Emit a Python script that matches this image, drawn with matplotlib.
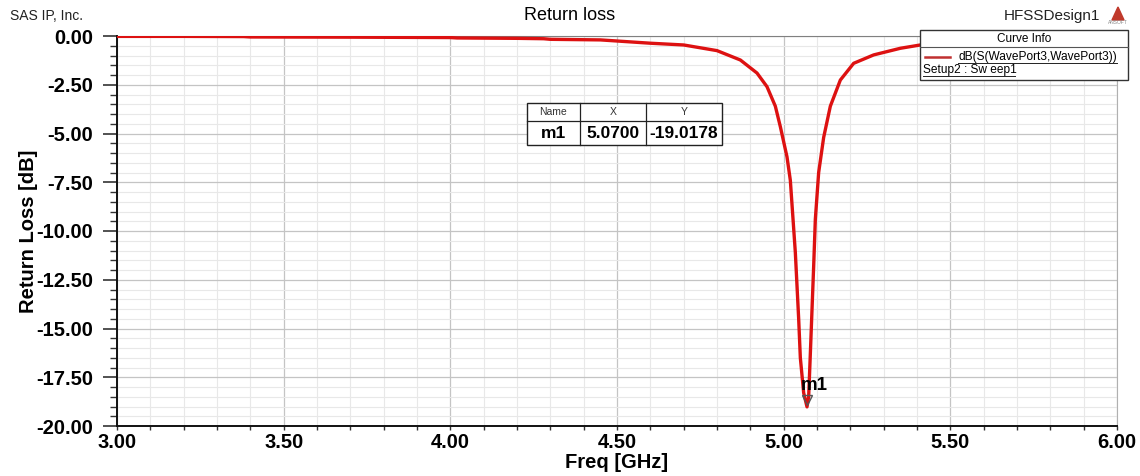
import matplotlib
matplotlib.use("Agg")
import matplotlib.pyplot as plt
from matplotlib.patches import Rectangle, Polygon
from matplotlib.lines import Line2D
import numpy as np

plt.rcParams['font.family'] = ['Liberation Sans', 'DejaVu Sans']

# valores
freq = [3.00, 3.20, 3.38, 3.40, 3.70, 4.00, 4.02, 4.20, 4.28, 4.30, 4.45, 4.60,
        4.70, 4.80, 4.87, 4.92, 4.95, 4.975, 4.99, 5.01, 5.02, 5.035, 5.045, 5.05,
        5.06, 5.07, 5.075, 5.08, 5.09, 5.095, 5.105, 5.12, 5.14, 5.17, 5.21, 5.27,
        5.35, 5.41, 5.50, 5.60, 5.80, 6.00]
ret_loss = [-0.02, -0.02, -0.03, -0.05, -0.06, -0.08, -0.10, -0.12, -0.14, -0.17, -0.20, -0.37,
            -0.46, -0.75, -1.23, -1.90, -2.60, -3.60, -4.65, -6.20, -7.40, -11.1, -14.5, -16.5,
            -18.3, -19.02, -18.5, -16.3, -11.8, -9.4, -7.0, -5.2, -3.6, -2.26, -1.40, -0.97,
            -0.63, -0.46, -0.35, -0.28, -0.20, -0.15]

m_name = 'm1'
m_x = 5.0700
m_y = -19.0178

W, H = 1140, 476
fig = plt.figure(figsize=(W / 100, H / 100), dpi=100)

def fx(px):
    return px / W

def fy(py):
    return 1 - py / H

ax = fig.add_axes([fx(117), fy(426), fx(1117) - fx(117), fy(36) - fy(426)])
ax.plot(freq, ret_loss, color='#dd1111', lw=2.4, zorder=3)

ax.set_xlim(3.0, 6.0)
ax.set_ylim(-20.0, 0.0)
ax.set_xticks(np.arange(3.0, 6.01, 0.5))
ax.set_xticks(np.arange(3.0, 6.01, 0.1), minor=True)
ax.set_yticks(np.arange(-20.0, 0.01, 2.5))
ax.set_yticks(np.arange(-20.0, 0.01, 0.5), minor=True)
ax.set_xticklabels(['%.2f' % v for v in np.arange(3.0, 6.01, 0.5)])
ax.set_yticklabels(['%.2f' % v for v in np.arange(-20.0, 0.01, 2.5)])
for lab in ax.get_xticklabels() + ax.get_yticklabels():
    lab.set_fontweight('bold')
    lab.set_fontsize(14.5)

ax.grid(which='major', color='#c4c4c4', lw=0.9)
ax.grid(which='minor', color='#e8e8e8', lw=0.8)
ax.tick_params(axis='y', which='major', length=10, width=1.2, color='#333333', pad=7)
ax.tick_params(axis='y', which='minor', length=5, width=1.0, color='#333333')
ax.tick_params(axis='x', which='both', length=3, width=1.0, color='#333333', pad=2)
ax.spines['left'].set_color('#111111')
ax.spines['bottom'].set_color('#111111')
ax.spines['left'].set_linewidth(1.4)
ax.spines['bottom'].set_linewidth(1.4)
ax.spines['top'].set_color('#808080')
ax.spines['right'].set_color('#b0b0b0')

ax.set_xlabel('Freq [GHz]', fontsize=14.5, fontweight='bold', labelpad=1)
ax.set_ylabel('Return Loss [dB]', fontsize=14.5, fontweight='bold', labelpad=-1)

# marcador
ax.plot([m_x], [m_y + 0.35], marker='v', ms=7, mfc='none', mec='#555555', mew=1, zorder=4)
ax.text(m_x + 0.022, -17.9, m_name, fontsize=13.5, fontweight='bold', ha='center', va='center', zorder=5)

# textos de encabezado
fig.text(fx(10), fy(16), 'SAS IP, Inc.', fontsize=10, ha='left', va='center', color='#222222')
fig.text(fx(570), fy(16), 'Return loss', fontsize=13, ha='center', va='center')
fig.text(fx(1100), fy(16), 'HFSSDesign1', fontsize=11, ha='right', va='center', color='#222222')
fig.patches.append(Polygon([[fx(1112), fy(20)], [fx(1124), fy(20)], [fx(1118), fy(7)]],
                           closed=True, transform=fig.transFigure, color='#c0392b'))
fig.text(fx(1118), fy(23), 'ANSOFT', fontsize=3.5, ha='center', va='center', color='#888888')

# cuadro Curve Info
fig.patches.append(Rectangle((fx(920), fy(80)), fx(1128) - fx(920), fy(30) - fy(80),
                             transform=fig.transFigure, fc='white', ec='#333333', lw=1, zorder=10))
fig.lines.append(Line2D([fx(920), fx(1128)], [fy(47), fy(47)], transform=fig.transFigure,
                        color='#555555', lw=0.8, zorder=11))
fig.text(fx(1024), fy(39), 'Curve Info', fontsize=8.5, ha='center', va='center', zorder=12)
fig.lines.append(Line2D([fx(925), fx(950)], [fy(57), fy(57)], transform=fig.transFigure,
                        color='#c03030', lw=1.8, zorder=11))
fig.text(fx(1117), fy(57), 'dB(S(WavePort3,WavePort3))', fontsize=8.6, ha='right', va='center', zorder=12)
fig.text(fx(923), fy(70), 'Setup2 : Sw eep1', fontsize=8.6, ha='left', va='center', zorder=12)
fig.lines.append(Line2D([fx(958), fx(1117)], [fy(63), fy(63)], transform=fig.transFigure,
                        color='#222222', lw=0.7, zorder=12))
fig.lines.append(Line2D([fx(923), fx(1015)], [fy(76), fy(76)], transform=fig.transFigure,
                        color='#222222', lw=0.7, zorder=12))

# tabla del marcador
x0, x1, x2, x3 = 527, 580, 646, 722
y0, y1, y2 = 103, 121, 145
fig.patches.append(Rectangle((fx(x0), fy(y2)), fx(x3) - fx(x0), fy(y0) - fy(y2),
                             transform=fig.transFigure, fc='white', ec='#222222', lw=1, zorder=10))
for xv in [x1, x2]:
    fig.lines.append(Line2D([fx(xv), fx(xv)], [fy(y0), fy(y2)], transform=fig.transFigure,
                            color='#222222', lw=0.9, zorder=11))
fig.lines.append(Line2D([fx(x0), fx(x3)], [fy(y1), fy(y1)], transform=fig.transFigure,
                        color='#222222', lw=0.9, zorder=11))
for xa, xb, h in [(x0, x1, 'Name'), (x1, x2, 'X'), (x2, x3, 'Y')]:
    fig.text(fx((xa + xb) / 2), fy((y0 + y1) / 2), h, fontsize=7.5, ha='center', va='center',
             color='#333333', zorder=12)
for xa, xb, v in [(x0, x1, m_name), (x1, x2, '%.4f' % m_x), (x2, x3, '%.4f' % m_y)]:
    fig.text(fx((xa + xb) / 2), fy((y1 + y2) / 2), v, fontsize=12.5, fontweight='bold',
             ha='center', va='center', zorder=12)

fig.savefig('out.png', dpi=100)
